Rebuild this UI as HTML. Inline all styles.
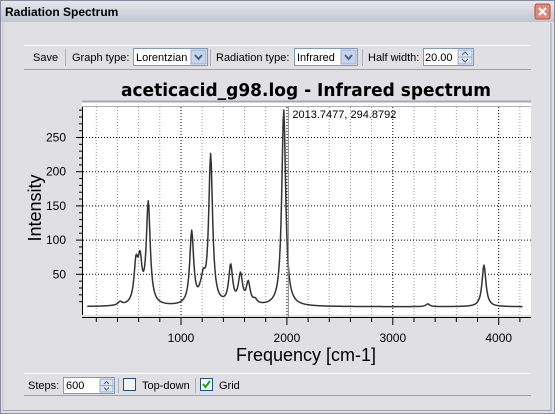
<!DOCTYPE html>
<html><head><meta charset="utf-8"><style>
body{margin:0;width:555px;height:414px;overflow:hidden;background:#e0dfe3;font-family:"Liberation Sans",sans-serif;}
</style></head><body>
<svg width="555" height="414" xmlns="http://www.w3.org/2000/svg" style="position:absolute;left:0;top:0;font-family:'Liberation Sans',sans-serif">
<defs><linearGradient id="tb" x1="0" y1="0" x2="0" y2="1"><stop offset="0" stop-color="#e6e7ee"/><stop offset="1" stop-color="#c2c3d2"/></linearGradient></defs>
<rect x="0" y="0" width="555" height="414" fill="#e0dfe3"/>
<rect x="0.5" y="0.5" width="554" height="413" fill="none" stroke="#8a8a9c"/>
<rect x="1" y="1" width="553" height="21" fill="url(#tb)"/>
<text x="5" y="16" font-size="12" font-weight="bold" fill="#000">Radiation Spectrum</text>
<g><rect x="535" y="4" width="15" height="15" rx="2" fill="#e08a7a" stroke="#b05040"/><path d="M539 8 L546 15 M546 8 L539 15" stroke="#fff" stroke-width="2"/></g>
<line x1="3" y1="23" x2="3" y2="411" stroke="#c0c0c8"/><line x1="551" y1="23" x2="551" y2="411" stroke="#a0a0ac"/><line x1="3" y1="410.5" x2="551" y2="410.5" stroke="#a0a0ac"/>
<line x1="24" y1="45.5" x2="531" y2="45.5" stroke="#fff"/>
<line x1="24" y1="69.5" x2="531" y2="69.5" stroke="#a0a0a8"/>
<g font-size="11" fill="#000">
<text x="33" y="61">Save</text>
<line x1="65.5" y1="49" x2="65.5" y2="66" stroke="#b0b0b8"/>
<text x="72" y="61">Graph type:</text>
<g><rect x="133.5" y="48.5" width="74" height="17" fill="#fff" stroke="#7f9db9"/><text x="136" y="61">Lorentzian</text><rect x="191" y="50" width="15" height="14" fill="#c8d4ee" stroke="#9aa8c8"/><path d="M195 55 L198.5 59 L202 55" stroke="#4d6185" stroke-width="2" fill="none"/></g>
<line x1="210.5" y1="49" x2="210.5" y2="66" stroke="#b0b0b8"/>
<text x="216" y="61">Radiation type:</text>
<g><rect x="294.5" y="48.5" width="63" height="17" fill="#fff" stroke="#7f9db9"/><text x="297" y="61">Infrared</text><rect x="341" y="50" width="15" height="14" fill="#c8d4ee" stroke="#9aa8c8"/><path d="M345 55 L348.5 59 L352 55" stroke="#4d6185" stroke-width="2" fill="none"/></g>
<line x1="362.5" y1="49" x2="362.5" y2="66" stroke="#b0b0b8"/>
<text x="368" y="61">Half width:</text>
<g><rect x="423.5" y="48.5" width="50" height="17" fill="#fff" stroke="#7f9db9"/><text x="425" y="61">20.00</text><rect x="458" y="50" width="14" height="7" fill="#dde3f0" stroke="#9aa8c8"/><rect x="458" y="57" width="14" height="7" fill="#dde3f0" stroke="#9aa8c8"/><path d="M462 55 L465 52 L468 55 M462 59 L465 62 L468 59" stroke="#4d6185" fill="none"/></g>
</g>
<text x="306" y="96" text-anchor="middle" font-family="'DejaVu Sans',sans-serif" font-size="18" font-weight="bold" textLength="370" lengthAdjust="spacingAndGlyphs">aceticacid_g98.log - Infrared spectrum</text>
<g id="chart"></g>
<line x1="24" y1="373.5" x2="531" y2="373.5" stroke="#fff"/>
<line x1="24" y1="395.5" x2="531" y2="395.5" stroke="#a0a0a8"/>
<g font-size="11" fill="#000">
<text x="28" y="389">Steps:</text>
<g><rect x="63.5" y="377.5" width="51" height="16" fill="#fff" stroke="#7f9db9"/><text x="66" y="389">600</text><rect x="100" y="379" width="13" height="6.5" fill="#dde3f0" stroke="#9aa8c8"/><rect x="100" y="385.5" width="13" height="6.5" fill="#dde3f0" stroke="#9aa8c8"/><path d="M104 384 L106.5 381.5 L109 384 M104 387.5 L106.5 390 L109 387.5" stroke="#4d6185" fill="none"/></g>
<line x1="118.5" y1="378" x2="118.5" y2="393" stroke="#b0b0b8"/>
<rect x="123.5" y="378.5" width="12" height="12" fill="#f4f4f0" stroke="#1c5180"/>
<text x="142" y="389">Top-down</text>
<line x1="195.5" y1="378" x2="195.5" y2="393" stroke="#b0b0b8"/>
<g><rect x="200.5" y="378.5" width="12" height="12" fill="#f4f4f0" stroke="#1c5180"/><path d="M203 384 L205.5 387 L210 381" stroke="#21a121" stroke-width="2" fill="none"/></g>
<text x="219" y="389">Grid</text>
</g>
</svg>
<script>
const peakFreqs = [424, 575, 613, 691, 1101, 1184, 1211, 1280, 1469, 1563, 1635, 1700, 1970, 3330, 3861, 1550];
const peakHeights = [5, 56, 57, 148, 106, 8, 28, 218, 56, 38, 31, 6, 288, 4, 61, 6];
const baseline = 2.5;
const halfWidth = 22;
const freqStart = 115, freqEnd = 4225, steps = 600;
const xTicks = [1000, 2000, 3000, 4000];
const yTicks = [50, 100, 150, 200, 250];
const markerLabel = "2013.7477, 294.8792";
const markerFreq = 2013.7;

const NS = "http://www.w3.org/2000/svg";
const X = f => 75.1 + f * 0.1059;
const Y = v => 308.5 - v * 0.684;
const g = document.getElementById('chart');
function mk(tag, attrs, parent) { const e = document.createElementNS(NS, tag); for (const k in attrs) e.setAttribute(k, attrs[k]); (parent || g).appendChild(e); return e; }

const bg = mk('rect', {x: 82, y: 101, width: 449, height: 214, fill: '#fff'});


mk('line', {x1: 82, y1: 101.5, x2: 531, y2: 101.5, stroke: '#a8a8b0', 'stroke-width': 2});
mk('line', {x1: 82, y1: 106.5, x2: 531, y2: 106.5, stroke: '#b0b0b8'});

for (let f = 200; f <= 4200; f += 200) {
  const major = f % 1000 === 0;
  const l = mk('line', {x1: X(f), y1: 107, x2: X(f), y2: 315, stroke: major ? '#000' : '#999', 'stroke-width': 1, 'stroke-dasharray': '1,2'});
  
  
}
yTicks.forEach(v => {
  const l = mk('line', {x1: 83, y1: Y(v), x2: 531, y2: Y(v), stroke: '#000', 'stroke-dasharray': '1,2'});
  
  
});

const ya = mk('line', {x1: 82.5, y1: 107, x2: 82.5, y2: 315, stroke: '#000'});


for (let v = 10; v <= 290; v += 10) {
  const major = v % 50 === 0;
  mk('line', {x1: major ? 76 : 79, y1: Y(v), x2: 82, y2: Y(v), stroke: '#000'});
}
yTicks.forEach(v => {
  const t = mk('text', {x: 66, y: Y(v) + 4, 'text-anchor': 'end', 'font-size': 12, fill: '#000'});
  t.textContent = v;
  
  
});
const yl = mk('text', {x: 0, y: 0, transform: 'translate(41,208) rotate(-90)', 'text-anchor': 'middle', 'font-size': 18, fill: '#000'});
yl.textContent = 'Intensity';



const xa = mk('line', {x1: 82, y1: 317.5, x2: 531, y2: 317.5, stroke: '#000'});


for (let f = 200; f <= 4200; f += 200) {
  const major = f % 1000 === 0;
  mk('line', {x1: X(f), y1: 318, x2: X(f), y2: major ? 325 : 322, stroke: '#000'});
}
xTicks.forEach(f => {
  const t = mk('text', {x: X(f), y: 342, 'text-anchor': 'middle', 'font-size': 12, fill: '#000'});
  t.textContent = f;
  
  
});
const xl = mk('text', {x: 306, y: 361, 'text-anchor': 'middle', 'font-size': 18, fill: '#000'});
xl.textContent = 'Frequency [cm-1]';



let d = '';
for (let i = 0; i <= steps; i++) {
  const f = freqStart + (freqEnd - freqStart) * i / steps;
  let v = baseline;
  for (let k = 0; k < peakFreqs.length; k++) {
    const dx = (f - peakFreqs[k]) / halfWidth;
    v += peakHeights[k] / (1 + dx * dx);
  }
  d += (i ? 'L' : 'M') + X(f).toFixed(2) + ' ' + Math.max(Y(v), 102).toFixed(2);
}
const sp = mk('path', {d: d, fill: 'none', stroke: '#333', 'stroke-width': 1.5, 'stroke-linejoin': 'round'});



const mx = X(markerFreq);
const ml = mk('line', {x1: mx, y1: 106, x2: mx, y2: 317, stroke: '#888'});


const mt = mk('text', {x: mx + 4, y: 118, 'font-size': 11, fill: '#000'});
mt.textContent = markerLabel;


</script>
</body></html>
